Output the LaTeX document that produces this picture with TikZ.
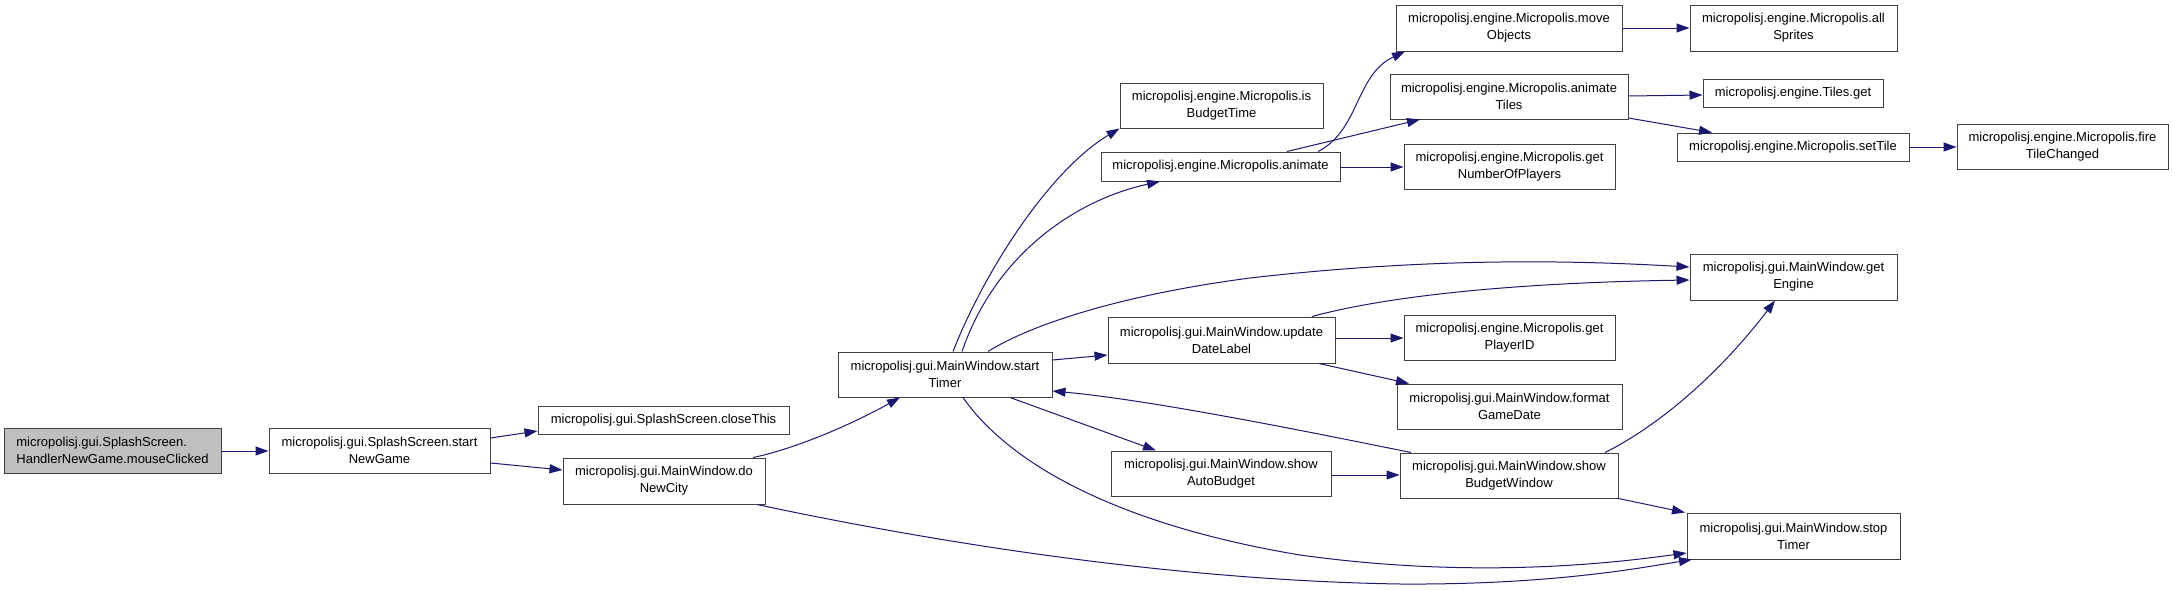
\documentclass[tikz,border=0pt]{standalone}
\usepackage{fontspec}
\setmainfont{Liberation Sans}
\usetikzlibrary{arrows.meta}
\definecolor{edgeblue}{HTML}{191970}
\definecolor{rootgray}{HTML}{BFBFBF}
\definecolor{boxline}{HTML}{404040}
\tikzset{
  box/.style={draw=boxline, line width=1pt, inner sep=0pt, align=center, fill=white,
    font=\fontsize{13}{17}\selectfont},
  sz/.style 2 args={minimum width=#1pt, minimum height=#2pt},
  call/.style={draw=edgeblue, line width=1pt, -{Triangle[length=13pt,width=9pt]}}
}
\begin{document}
\begin{tikzpicture}[x=1pt,y=-1pt]
\useasboundingbox (0,0) rectangle (2173,589);
\fill[white] (0,0) rectangle (2173,589);
% nodes
\node[box, sz={217}{45}, fill=rootgray, align=left] (mc) at (112.5,450.5) {micropolisj.gui.SplashScreen.\\HandlerNewGame.mouseClicked};
\node[box, sz={221}{45}] (sng) at (379.5,450.5) {micropolisj.gui.SplashScreen.start\\NewGame};
\node[box, sz={251}{28}] (ct) at (663.5,420) {micropolisj.gui.SplashScreen.closeThis};
\node[box, sz={202}{46}] (dnc) at (664,481) {micropolisj.gui.MainWindow.do\\NewCity};
\node[box, sz={214}{45}] (st) at (945,374.5) {micropolisj.gui.MainWindow.start\\Timer};
\node[box, sz={203}{45}] (ibt) at (1221.5,105.5) {micropolisj.engine.Micropolis.is\\BudgetTime};
\node[box, sz={239}{29}] (an) at (1220.5,166.5) {micropolisj.engine.Micropolis.animate};
\node[box, sz={227}{46}] (udl) at (1221.5,340) {micropolisj.gui.MainWindow.update\\DateLabel};
\node[box, sz={220}{45}] (sab) at (1221,473.5) {micropolisj.gui.MainWindow.show\\AutoBudget};
\node[box, sz={226}{46}] (mo) at (1509,28) {micropolisj.engine.Micropolis.move\\Objects};
\node[box, sz={238}{45}] (at) at (1509,96.5) {micropolisj.engine.Micropolis.animate\\Tiles};
\node[box, sz={211}{45}] (gnp) at (1509.5,166.5) {micropolisj.engine.Micropolis.get\\NumberOfPlayers};
\node[box, sz={211}{45}] (gpid) at (1509.5,337.5) {micropolisj.engine.Micropolis.get\\PlayerID};
\node[box, sz={225}{45}] (fgd) at (1509.5,406.5) {micropolisj.gui.MainWindow.format\\GameDate};
\node[box, sz={218}{45}] (sbw) at (1509,475.5) {micropolisj.gui.MainWindow.show\\BudgetWindow};
\node[box, sz={207}{46}] (as) at (1793.5,28) {micropolisj.engine.Micropolis.all\\Sprites};
\node[box, sz={180}{28}] (tg) at (1793,93) {micropolisj.engine.Tiles.get};
\node[box, sz={232}{28}] (stl) at (1793,147) {micropolisj.engine.Micropolis.setTile};
\node[box, sz={207}{46}] (ge) at (1793.5,277) {micropolisj.gui.MainWindow.get\\Engine};
\node[box, sz={213}{46}] (stp) at (1793.5,536) {micropolisj.gui.MainWindow.stop\\Timer};
\node[box, sz={211}{45}] (ftc) at (2062.5,146.5) {micropolisj.engine.Micropolis.fire\\TileChanged};
% edges
\draw[call] (mc.east |- 0,451) -- (sng.west |- 0,451);
\draw[call] (sng.east |- 0,438) -- (ct.west |- 0,431);
\draw[call] (sng.east |- 0,463) -- (dnc.west |- 0,470);
\draw[call] (753,0 |- dnc.north) .. controls (790,450) and (845,428) .. (900,0 |- st.south);
\draw[call] (757,0 |- dnc.south) .. controls (900,535) and (1150,580) .. (1400,584) .. controls (1550,585) and (1640,568) .. (1692,0 |- stp.south);
\draw[call] (963,0 |- st.south) .. controls (1010,465) and (1120,525) .. (1300,555) .. controls (1480,580) and (1620,562) .. (stp.west |- 0,553);
\draw[call] (953,0 |- st.north) .. controls (985,270) and (1050,170) .. (ibt.south west);
\draw[call] (962,0 |- st.north) .. controls (995,255) and (1075,200) .. (1160,0 |- an.south);
\draw[call] (988,0 |- st.north) .. controls (1030,325) and (1120,295) .. (1250,278) .. controls (1450,255) and (1600,262) .. (ge.west |- 0,267);
\draw[call] (1312,0 |- udl.north) .. controls (1380,298) and (1500,283) .. (ge.west |- 0,280);
\draw[call] (st.east |- 0,360) -- (udl.west |- 0,355);
\draw[call] (1411,0 |- sbw.north) .. controls (1300,430) and (1150,400) .. (st.east |- 0,391);
\draw[call] (1010,0 |- st.south) -- (1156,0 |- sab.north);
\draw[call] (1318,0 |- an.north) .. controls (1360,130) and (1355,75) .. (1405,0 |- mo.south);
\draw[call] (1287,0 |- an.north) -- (1420,0 |- at.south);
\draw[call] (an.east |- 0,167) -- (gnp.west |- 0,167);
\draw[call] (mo.east |- 0,28) -- (as.west |- 0,28);
\draw[call] (at.east |- 0,96) -- (tg.west |- 0,95);
\draw[call] (at.east |- 0,118) -- (1712,0 |- stl.north);
\draw[call] (stl.east |- 0,147) -- (ftc.west |- 0,147);
\draw[call] (udl.east |- 0,338) -- (gpid.west |- 0,338);
\draw[call] (1319,0 |- udl.south) -- (1409,0 |- fgd.north);
\draw[call] (sab.east |- 0,475) -- (sbw.west |- 0,475);
\draw[call] (1605,0 |- sbw.north) .. controls (1670,420) and (1730,360) .. (1775,0 |- ge.south);
\draw[call] (sbw.south east) -- (1685,0 |- stp.north);
\end{tikzpicture}
\end{document}
